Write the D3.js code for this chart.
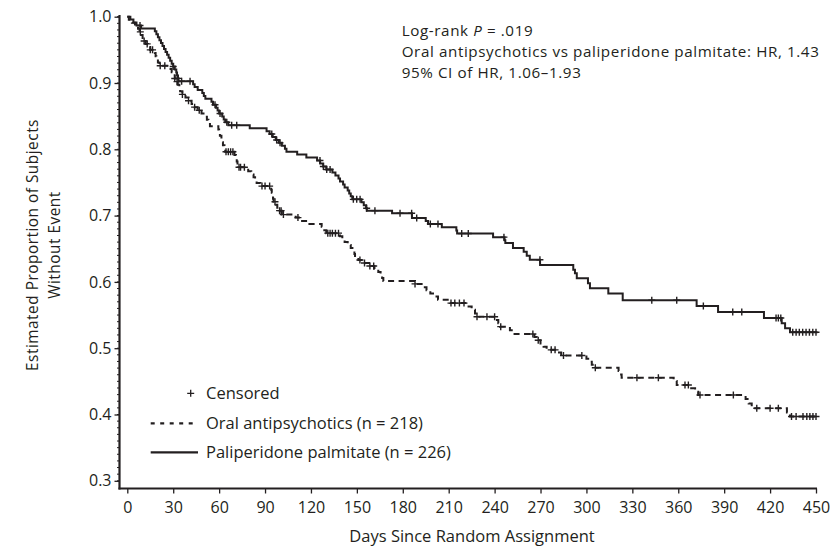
<!DOCTYPE html>
<html>
<head>
<meta charset="utf-8">
<script src="https://cdn.jsdelivr.net/npm/d3@7"></script>
<style>
  html, body { margin: 0; padding: 0; background: #ffffff; }
  svg { display: block; }
  text { font-family: "Open Sans", "Noto Sans", sans-serif; fill: #231f20; }
</style>
</head>
<body>
<svg id="chart" width="830" height="550"></svg>
<script>
// ---------------- DATA ----------------
const xTickValues = [0, 30, 60, 90, 120, 150, 180, 210, 240, 270, 300, 330, 360, 390, 420, 450];
const yTickValues = [0.3, 0.4, 0.5, 0.6, 0.7, 0.8, 0.9, 1.0];

const seriesNames = ["Oral antipsychotics (n = 218)", "Paliperidone palmitate (n = 226)"];
const endDay = 451;

// Kaplan-Meier steps: [day, survival after the event]
const oralSteps = [
  [0, 1.0],
  [1, 0.9954], [3, 0.9908], [5, 0.9862], [7, 0.9817], [8, 0.9771], [9, 0.9725], [10, 0.968],
  [11, 0.9634], [12, 0.959], [13.5, 0.9543], [15, 0.950],
  [18, 0.9452], [18.5, 0.9404], [19, 0.9356], [20, 0.9308], [21, 0.926],
  [27, 0.9212], [29, 0.9164], [30, 0.9116], [31, 0.9068],
  [32, 0.902], [33, 0.8972], [34, 0.8924], [34.5, 0.8876],
  [36, 0.8828], [38, 0.878], [40, 0.8732], [42, 0.8684], [44, 0.8636], [46, 0.8588],
  [48.5, 0.854], [50.5, 0.8492], [52, 0.8444], [53, 0.8396], [54, 0.8348],
  [59.5, 0.83], [60, 0.8252], [60.5, 0.8204], [61.5, 0.8156], [62, 0.8108], [62.5, 0.806],
  [63.5, 0.8012], [64, 0.7964],
  [70, 0.7915], [71, 0.7866], [71.5, 0.7817], [72, 0.7768], [72.5, 0.773],
  [79, 0.767], [81, 0.762], [82.5, 0.758], [83.5, 0.7535], [84.5, 0.749], [87, 0.7445],
  [94, 0.739], [94.4, 0.7345], [94.8, 0.730], [95.2, 0.7255], [95.6, 0.721], [97, 0.7165],
  [98, 0.712], [99, 0.7075], [101, 0.7015],
  [110, 0.697], [113, 0.692], [119, 0.6875], [127, 0.683], [128, 0.678], [130, 0.6735],
  [139, 0.669], [140.5, 0.6645], [142, 0.66], [144, 0.6555], [146, 0.651], [148, 0.6465],
  [148.4, 0.642], [148.8, 0.6375], [151, 0.633], [154, 0.6285], [158, 0.624], [161.5, 0.6195],
  [164, 0.615], [165.5, 0.6105], [166.5, 0.606], [167.3, 0.6015],
  [188, 0.597], [193, 0.592], [195.5, 0.5875], [198, 0.5825], [201, 0.578], [203, 0.573],
  [211, 0.568],
  [222, 0.563], [225, 0.558], [227.2, 0.5525], [228.3, 0.5475],
  [241.5, 0.5425], [242.4, 0.5375], [243.5, 0.5325],
  [250, 0.527], [251.2, 0.5215],
  [266, 0.517], [267.5, 0.512], [270, 0.507], [272, 0.502], [274, 0.4975],
  [281, 0.4935], [283.5, 0.489],
  [300, 0.484], [302, 0.4795], [303.5, 0.475], [305.5, 0.4705],
  [321, 0.4655], [322, 0.4605], [323, 0.4555],
  [357, 0.4505], [359, 0.4445],
  [367.7, 0.4395], [371, 0.4345], [373, 0.4295],
  [404, 0.4235], [406, 0.4165], [408, 0.4095],
  [431, 0.403], [433, 0.397]
];
const oralCensored = [
  8.5, 11, 13, 15, 16.5, 21.5, 24.5, 31, 32.5, 36, 40, 44, 47,
  64.5, 66, 67.5, 69, 73, 74, 76.5, 88, 90, 93, 96.5, 99.5, 100.5, 102, 111.5,
  131, 132.5, 134, 136, 138, 152, 155, 158.5, 161, 188,
  211.5, 214, 217, 220, 228.5, 235, 240, 244,
  265, 268.5, 277, 279.5, 285, 297, 305.8, 333, 347,
  364.4, 366.6, 374.2, 396, 411.3, 420, 425.4,
  434, 437, 441.5, 444, 446, 448, 450
];

const paliSteps = [
  [0, 1.0],
  [2, 0.9956], [4, 0.9912], [6, 0.9867], [9, 0.9823],
  [18, 0.9779], [19, 0.9735], [20, 0.969], [21, 0.9646], [22, 0.9602], [23, 0.9558],
  [24, 0.9513], [25, 0.9469], [26, 0.9425], [27, 0.938], [28, 0.9336], [29, 0.9292],
  [30, 0.9248], [31, 0.9203], [32, 0.9159], [32.5, 0.9115], [33, 0.907], [33.5, 0.9026],
  [43, 0.8982], [44, 0.8938], [46, 0.8894], [49, 0.8849], [50, 0.8805], [51, 0.8761],
  [55, 0.8717], [56, 0.8672], [58, 0.8628], [59, 0.8584], [60, 0.854], [62, 0.8495],
  [63, 0.8451], [64, 0.8407], [66, 0.8362],
  [80, 0.8318], [91, 0.8274], [93, 0.823], [95, 0.8185], [97, 0.8141], [99, 0.8097],
  [101, 0.8052], [103, 0.8008], [104, 0.7964],
  [111, 0.792], [117, 0.7875], [124, 0.783], [126, 0.7785], [128, 0.774], [130, 0.7695],
  [134, 0.765], [136, 0.7605], [138, 0.756], [139, 0.7515], [141, 0.747], [142, 0.7425],
  [144, 0.738], [145, 0.7335], [146, 0.729], [147, 0.7245],
  [153, 0.72], [154.5, 0.7155], [156, 0.711], [156.5, 0.7075],
  [173, 0.7035], [186, 0.6965], [195, 0.692], [196.5, 0.6875], [205.5, 0.6825],
  [215, 0.6775], [215.5, 0.673],
  [239, 0.6675], [246.5, 0.663], [247, 0.6585], [252, 0.651], [259, 0.6455], [261, 0.6395],
  [263, 0.6335], [269.7, 0.6255],
  [291.4, 0.6185], [292.5, 0.613], [293.7, 0.6055], [301, 0.598], [302.3, 0.5905],
  [314.3, 0.5825], [323.7, 0.5725],
  [372, 0.5635], [386, 0.5545], [416, 0.5455], [427.6, 0.5375], [429.8, 0.530], [433, 0.524]
];
const paliCensored = [
  8.3, 30, 33.3, 35.5, 41, 57.3, 60.6, 65, 68.2, 71.5,
  94.4, 97.6, 99.8, 125.9, 128.1, 130.3, 132.5, 147.7, 149.9, 152.1,
  156.4, 161.8, 178.2, 185.8, 189.1, 198, 203, 218.5, 222.8,
  246.1, 269.6, 342.7, 359, 376.4, 395.6, 401.5,
  423.9, 425.4, 427, 434.8, 437, 439.1, 441.3, 443.5, 445.7, 447.9, 450
];

// annotation: first line has an italic "P" piece
const annotationFirstLine = [
  { text: "Log-rank", italic: false },
  { text: "P", italic: true },
  { text: "= .019", italic: false }
];
const annotationLines = [
  "Oral antipsychotics vs paliperidone palmitate: HR, 1.43",
  "95% CI of HR, 1.06\u20131.93"
];
const xTitle = "Days Since Random Assignment";
const yTitleLines = ["Estimated Proportion of Subjects", "Without Event"];
const censoredLabel = "Censored";

// ---------------- LAYOUT ----------------
const ink = "#231f20";
const fontSize = 16.5;
const tickFont = 16;
const annFont = 15.2, annSpacing = 0.6, annLead = 20.8;
const svg = d3.select("#chart");
const x = d3.scaleLinear().domain([0, 450]).range([127.3, 816]);
const y = d3.scaleLinear().domain([0.3, 1.0]).range([480.8, 16.7]);
const axisX = 119.5, axisY = 488.5;

function valueAt(steps, day) {
  let v = steps[0][1];
  for (const s of steps) { if (s[0] <= day) v = s[1]; else break; }
  return v;
}

// ---- y axis ----
const minorTicks = d3.range(30, 101).map(d => d / 100);
const gy = svg.append("g").attr("transform", `translate(${axisX},0)`);
gy.selectAll("line.minor").data(minorTicks).join("line")
  .attr("class", "minor")
  .attr("x1", -2.5).attr("x2", 0)
  .attr("y1", d => y(d)).attr("y2", d => y(d))
  .attr("stroke", ink).attr("stroke-width", 1);
const yAxis = d3.axisLeft(y).tickValues(yTickValues).tickFormat(d3.format(".1f"))
  .tickSize(5).tickSizeOuter(0).tickPadding(3);
gy.call(yAxis);
gy.select(".domain").remove();
gy.selectAll(".tick line").attr("stroke", ink).attr("stroke-width", 1.3);
gy.selectAll(".tick text").attr("font-size", tickFont).attr("font-family", null).attr("fill", ink);

// ---- x axis ----
const gx = svg.append("g").attr("transform", `translate(0,${axisY})`);
const xAxis = d3.axisBottom(x).tickValues(xTickValues).tickSize(5).tickSizeOuter(0).tickPadding(8);
gx.call(xAxis);
gx.select(".domain").remove();
gx.selectAll(".tick line").attr("stroke", ink).attr("stroke-width", 1.3);
gx.selectAll(".tick text").attr("font-size", tickFont).attr("font-family", null).attr("fill", ink);

// axis lines
svg.append("line").attr("x1", axisX).attr("x2", axisX).attr("y1", 15).attr("y2", axisY + 1)
  .attr("stroke", ink).attr("stroke-width", 2.2);
svg.append("line").attr("x1", axisX - 1).attr("x2", 817).attr("y1", axisY).attr("y2", axisY)
  .attr("stroke", ink).attr("stroke-width", 2.2);

// ---- curves ----
const line = d3.line().x(d => x(d[0])).y(d => y(d[1])).curve(d3.curveStepAfter);
function drawCurve(steps, censored, dashed) {
  const pts = steps.concat([[endDay, steps[steps.length - 1][1]]]);
  svg.append("path").datum(pts).attr("d", line)
    .attr("fill", "none").attr("stroke", ink).attr("stroke-width", 2)
    .attr("stroke-dasharray", dashed ? "6,4.5" : null);
  const g = svg.append("g");
  censored.forEach(d => {
    const cx = x(d), cy = y(valueAt(steps, d));
    g.append("path").attr("d", `M${cx - 3.5},${cy}H${cx + 3.5}M${cx},${cy - 3.5}V${cy + 3.5}`)
      .attr("stroke", ink).attr("stroke-width", 1.4).attr("fill", "none");
  });
}
drawCurve(oralSteps, oralCensored, true);
drawCurve(paliSteps, paliCensored, false);

// ---- annotation ----
const ann = svg.append("g").attr("font-size", annFont).attr("letter-spacing", annSpacing);
const spaceW = annFont * 0.26 + annSpacing;
let cursor = 401.7;
annotationFirstLine.forEach(p => {
  const t = ann.append("text").attr("x", cursor).attr("y", 36.4).text(p.text);
  if (p.italic) t.attr("font-style", "italic");
  cursor += t.node().getComputedTextLength() + spaceW;
});
annotationLines.forEach((s, i) => {
  ann.append("text").attr("x", 401.7).attr("y", 36.4 + (i + 1) * annLead).text(s);
});

// ---- titles ----
svg.append("text").attr("x", 472).attr("y", 542).attr("text-anchor", "middle")
  .attr("font-size", fontSize).text(xTitle);
yTitleLines.forEach((t, i) => {
  svg.append("text").attr("transform", `translate(${38.3 + i * 21.3},245) rotate(-90)`)
    .attr("text-anchor", "middle").attr("font-size", 15.4).attr("letter-spacing", 0.5).text(t);
});

// ---- legend ----
const lg = svg.append("g").attr("font-size", fontSize);
lg.append("path").attr("d", "M187.2,393.3H194.2M190.7,389.8V396.8")
  .attr("stroke", ink).attr("stroke-width", 1.3);
lg.append("text").attr("x", 206).attr("y", 399).text(censoredLabel);
lg.append("line").attr("x1", 150.7).attr("x2", 198).attr("y1", 423.3).attr("y2", 423.3)
  .attr("stroke", ink).attr("stroke-width", 2.2).attr("stroke-dasharray", "4,5.5");
lg.append("text").attr("x", 206).attr("y", 429).text(seriesNames[0]);
lg.append("line").attr("x1", 150.7).attr("x2", 198).attr("y1", 452.3).attr("y2", 452.3)
  .attr("stroke", ink).attr("stroke-width", 2.2);
lg.append("text").attr("x", 206).attr("y", 458).text(seriesNames[1]);
</script>
</body>
</html>
